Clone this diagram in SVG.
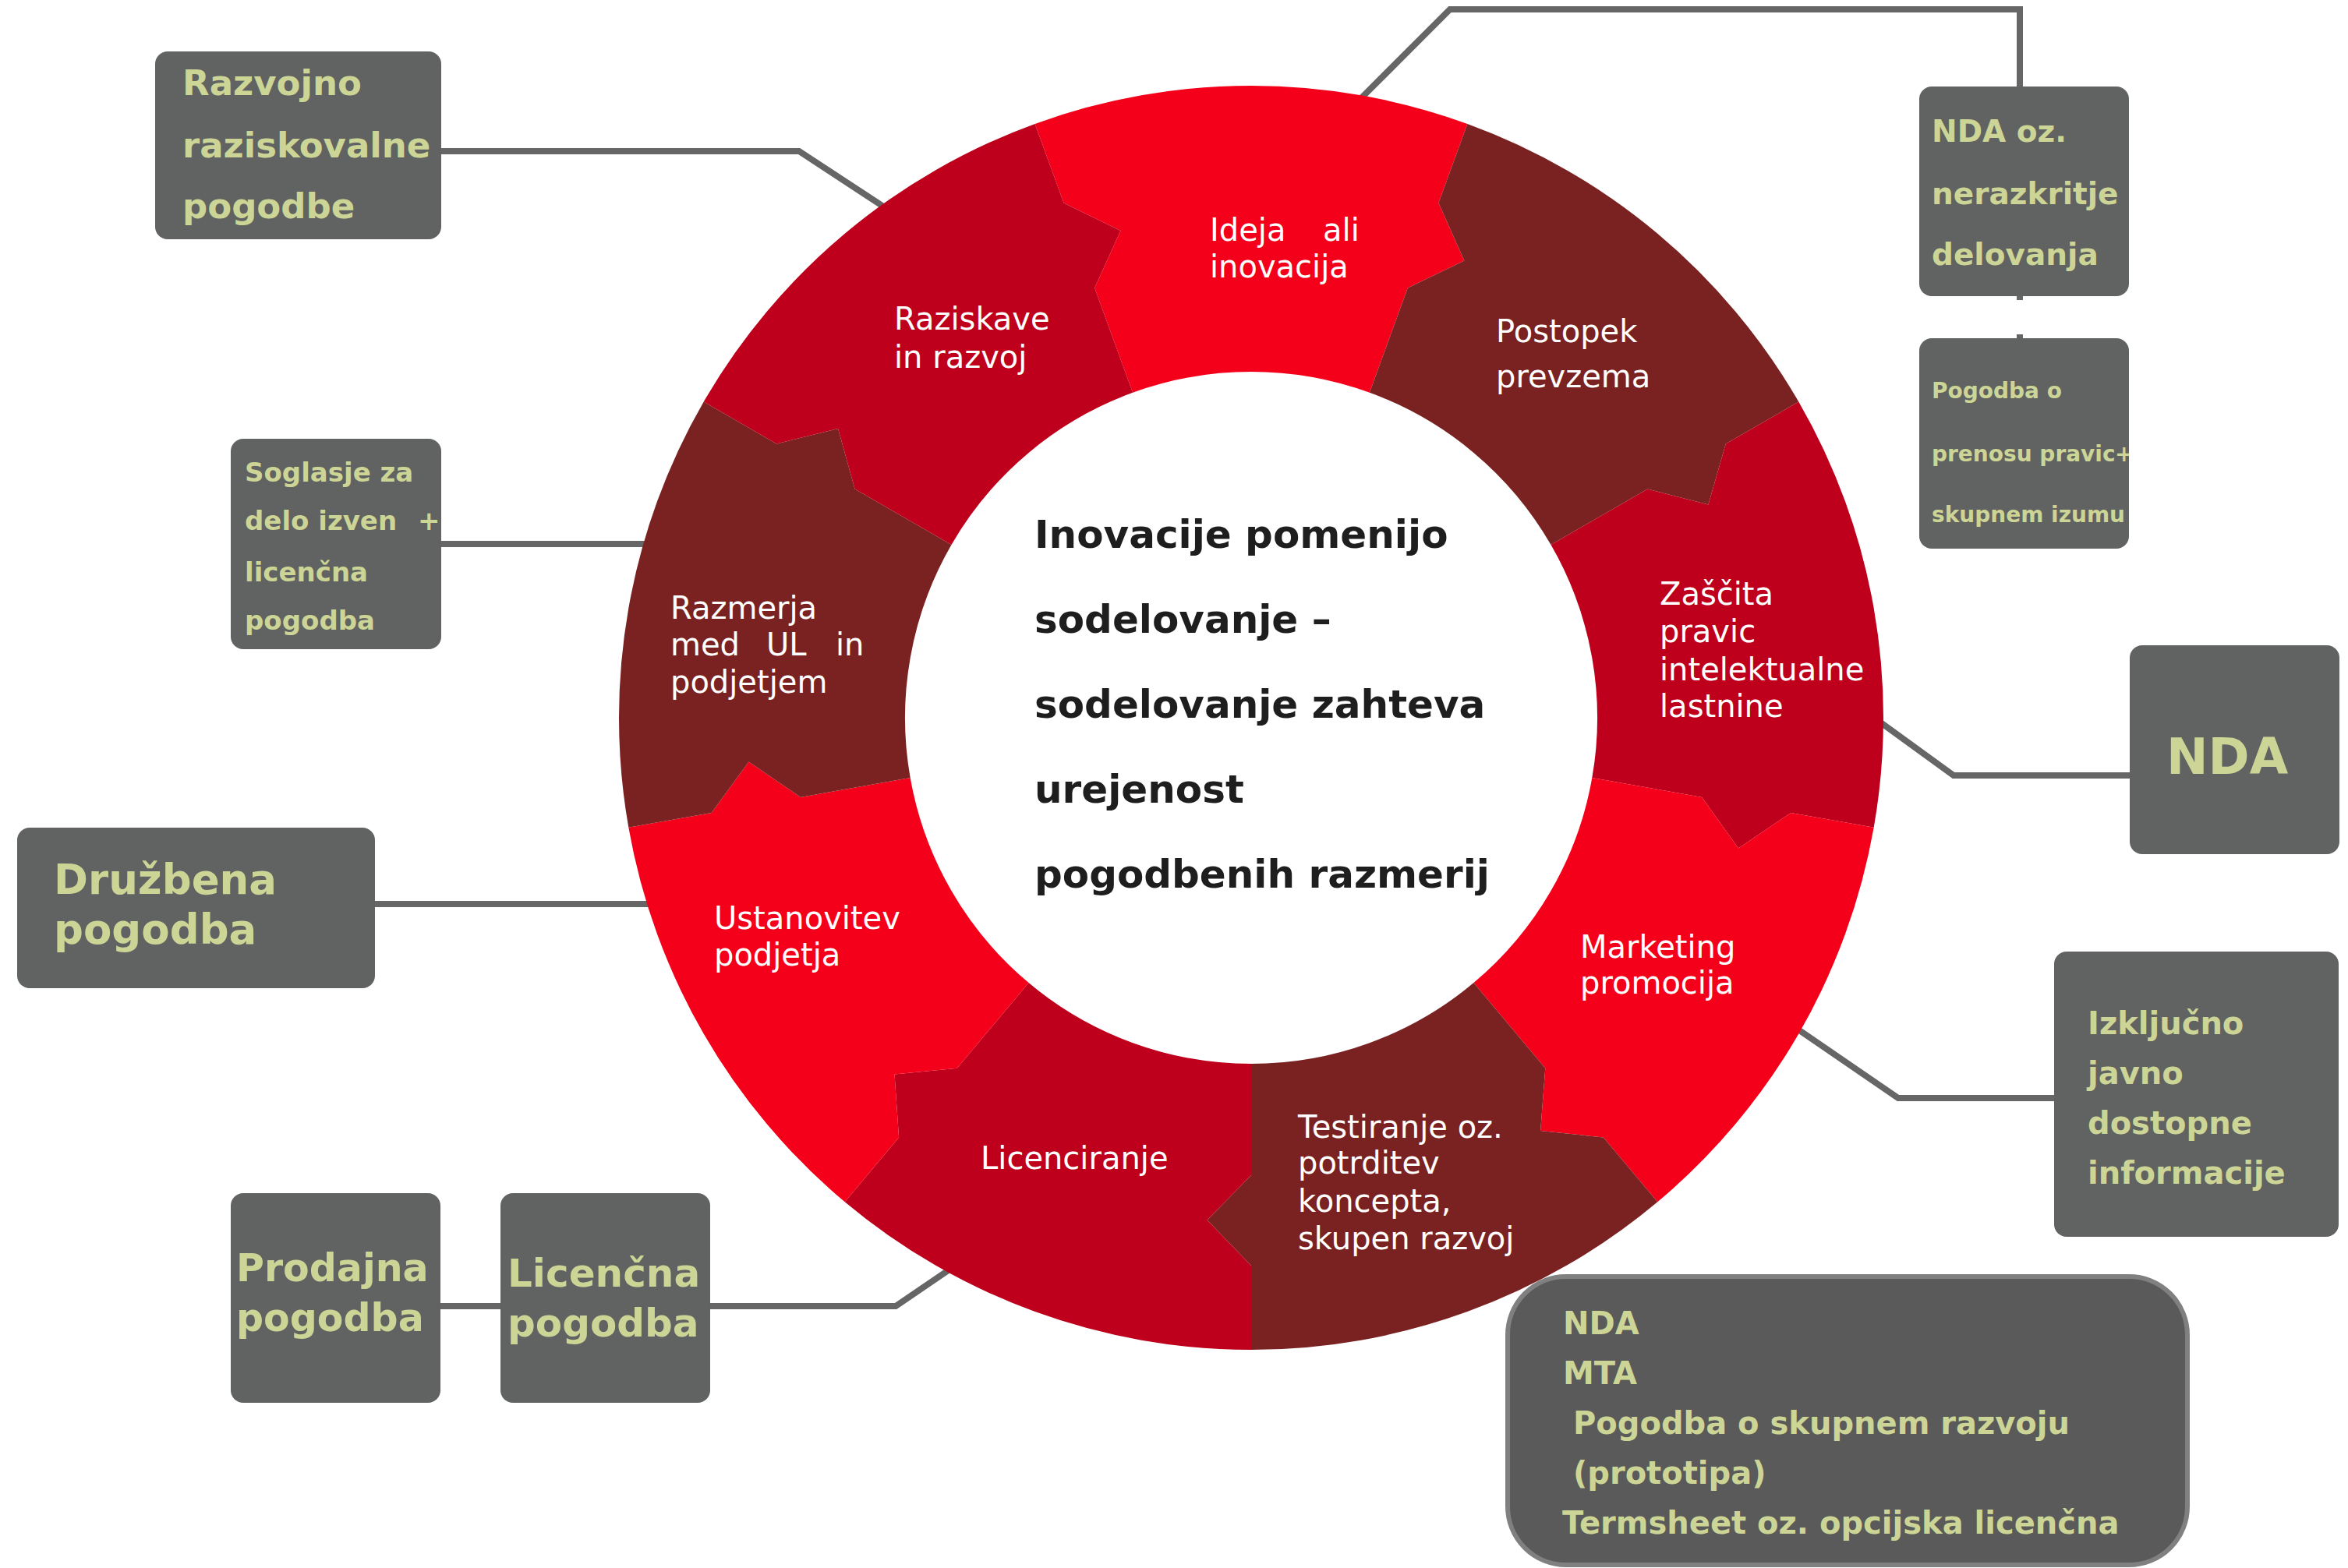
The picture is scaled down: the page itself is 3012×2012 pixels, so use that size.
<svg xmlns="http://www.w3.org/2000/svg" width="3012" height="2012" viewBox="0 0 3012 2012">
<style>
.bright{fill:#F4001A}
.crimson{fill:#BE001C}
.dark{fill:#7A2221}
.box{fill:#616362}
.bt{fill:#CCD595;font-family:"DejaVu Sans",sans-serif;font-weight:bold}
.lbl{fill:#FFFFFF;font-family:"DejaVu Sans",sans-serif;font-size:40px}
.ctr{fill:#1E1E1E;font-family:"DejaVu Sans",sans-serif;font-weight:bold;font-size:50px}
.con{fill:none;stroke:#666666;stroke-width:8;stroke-linejoin:miter}
</style>
<defs>
<clipPath id="clip7"><rect x="2462" y="434" width="269" height="270" rx="16"/></clipPath>
</defs>
<rect width="3012" height="2012" fill="#FFFFFF"/>
<g id="connectors">
<polyline class="con" points="566,194 1025,194 1150,276"/>
<polyline class="con" points="566,698 845,698"/>
<polyline class="con" points="481,1160 850,1160"/>
<polyline class="con" points="565,1676 642,1676"/>
<polyline class="con" points="911,1676 1149,1676 1240,1614"/>
<polyline class="con" points="1740,132 1860,12 2591,12 2591,111"/>
<line class="con" x1="2591" y1="380" x2="2591" y2="385"/>
<line class="con" x1="2591" y1="429" x2="2591" y2="434"/>
<polyline class="con" points="2400,918 2506,995 2732,995"/>
<polyline class="con" points="2295,1313 2435,1409 2635,1409"/>
</g>
<g id="ring">
<g id="seg-ideja">
<path class="bright" d="M 1327.6 158.9 A 811 811 0 0 1 1882.4 158.9 L 1845.4 260.4 L 1878.4 334.6 L 1805.8 369.4 L 1756.9 503.8 A 444 444 0 0 0 1453.1 503.8 L 1404.2 369.4 L 1437.5 296.0 L 1364.6 260.4 Z"/>
<text class="lbl"><tspan x="1552" y="309">Ideja</tspan><tspan x="1697" y="309">ali</tspan><tspan x="1552" y="356">inovacija</tspan></text>
</g>
<g id="seg-postopek">
<path class="dark" d="M 1882.4 158.9 A 811 811 0 0 1 2307.3 515.5 L 2213.8 569.5 L 2191.4 647.6 L 2113.4 627.5 L 1989.5 699 A 444 444 0 0 0 1756.9 503.8 L 1805.8 369.4 L 1878.4 334.6 L 1845.4 260.4 Z"/>
<text class="lbl"><tspan x="1919" y="439">Postopek</tspan><tspan x="1919" y="497">prevzema</tspan></text>
</g>
<g id="seg-zascita">
<path class="crimson" d="M 2307.3 515.5 A 811 811 0 0 1 2403.7 1061.8 L 2297.3 1043.1 L 2230.0 1088.5 L 2183.1 1022.9 L 2042.3 998.1 A 444 444 0 0 0 1989.5 699 L 2113.4 627.5 L 2191.4 647.6 L 2213.8 569.5 Z"/>
<text class="lbl"><tspan x="2129" y="776">Zaščita</tspan><tspan x="2129" y="824">pravic</tspan><tspan x="2129" y="873">intelektualne</tspan><tspan x="2129" y="920">lastnine</tspan></text>
</g>
<g id="seg-marketing">
<path class="bright" d="M 2403.7 1061.8 A 811 811 0 0 1 2126.3 1542.3 L 2056.9 1459.5 L 1976.1 1451.0 L 1982.3 1370.7 L 1890.4 1261.1 A 444 444 0 0 0 2042.3 998.1 L 2183.1 1022.9 L 2230.0 1088.5 L 2297.3 1043.1 Z"/>
<text class="lbl"><tspan x="2027" y="1229">Marketing</tspan><tspan x="2027" y="1275">promocija</tspan></text>
</g>
<g id="seg-testiranje">
<path class="dark" d="M 2126.3 1542.3 A 811 811 0 0 1 1605 1732 L 1605 1624 L 1548.6 1565.5 L 1605 1508 L 1605 1365 A 444 444 0 0 0 1890.4 1261.1 L 1982.3 1370.7 L 1976.1 1451.0 L 2056.9 1459.5 Z"/>
<text class="lbl"><tspan x="1665" y="1460">Testiranje oz.</tspan><tspan x="1665" y="1506">potrditev</tspan><tspan x="1665" y="1555">koncepta,</tspan><tspan x="1665" y="1603">skupen razvoj</tspan></text>
</g>
<g id="seg-licenciranje">
<path class="crimson" d="M 1605 1732 A 811 811 0 0 1 1083.7 1542.3 L 1153.1 1459.5 L 1147.5 1378.5 L 1227.7 1370.7 L 1319.6 1261.1 A 444 444 0 0 0 1605 1365 L 1605 1508 L 1548.6 1565.5 L 1605 1624 Z"/>
<text class="lbl" x="1258" y="1500">Licenciranje</text>
</g>
<g id="seg-ustanovitev">
<path class="bright" d="M 1083.7 1542.3 A 811 811 0 0 1 806.3 1061.8 L 912.7 1043.1 L 960.5 977.4 L 1026.9 1022.9 L 1167.7 998.1 A 444 444 0 0 0 1319.6 1261.1 L 1227.7 1370.7 L 1147.5 1378.5 L 1153.1 1459.5 Z"/>
<text class="lbl"><tspan x="916" y="1192">Ustanovitev</tspan><tspan x="916" y="1239">podjetja</tspan></text>
</g>
<g id="seg-razmerja">
<path class="dark" d="M 806.3 1061.8 A 811 811 0 0 1 902.7 515.5 L 996.2 569.5 L 1075.0 549.9 L 1096.6 627.5 L 1220.5 699 A 444 444 0 0 0 1167.7 998.1 L 1026.9 1022.9 L 960.5 977.4 L 912.7 1043.1 Z"/>
<text class="lbl"><tspan x="860" y="794">Razmerja</tspan><tspan x="860" y="841">med</tspan><tspan x="983" y="841">UL</tspan><tspan x="1072" y="841">in</tspan><tspan x="860" y="889">podjetjem</tspan></text>
</g>
<g id="seg-raziskave">
<path class="crimson" d="M 902.7 515.5 A 811 811 0 0 1 1327.6 158.9 L 1364.6 260.4 L 1437.5 296.0 L 1404.2 369.4 L 1453.1 503.8 A 444 444 0 0 0 1220.5 699 L 1096.6 627.5 L 1075.0 549.9 L 996.2 569.5 Z"/>
<text class="lbl"><tspan x="1147" y="423">Raziskave</tspan><tspan x="1147" y="472">in razvoj</tspan></text>
</g>
</g>
<g id="center">
<text class="ctr"><tspan x="1327" y="703">Inovacije pomenijo</tspan><tspan x="1327" y="812">sodelovanje –</tspan><tspan x="1327" y="921">sodelovanje zahteva</tspan><tspan x="1327" y="1030">urejenost</tspan><tspan x="1327" y="1139">pogodbenih razmerij</tspan></text>
</g>
<g id="box-razvojno">
<rect class="box" x="199" y="66" width="367" height="241" rx="16"/>
<text class="bt" font-size="45"><tspan x="234" y="122">Razvojno</tspan><tspan x="234" y="202">raziskovalne</tspan><tspan x="234" y="280">pogodbe</tspan></text>
</g>
<g id="box-soglasje">
<rect class="box" x="296" y="563" width="270" height="270" rx="16"/>
<text class="bt" font-size="34"><tspan x="314" y="618">Soglasje za</tspan><tspan x="314" y="680">delo izven</tspan><tspan x="536" y="680">+</tspan><tspan x="314" y="746">licenčna</tspan><tspan x="314" y="808">pogodba</tspan></text>
</g>
<g id="box-druzbena">
<rect class="box" x="22" y="1062" width="459" height="206" rx="16"/>
<text class="bt" font-size="53"><tspan x="69" y="1147">Družbena</tspan><tspan x="69" y="1211">pogodba</tspan></text>
</g>
<g id="box-prodajna">
<rect class="box" x="296" y="1531" width="269" height="269" rx="16"/>
<text class="bt" font-size="49"><tspan x="303" y="1644">Prodajna</tspan><tspan x="303" y="1708">pogodba</tspan></text>
</g>
<g id="box-licencna">
<rect class="box" x="642" y="1531" width="269" height="269" rx="16"/>
<text class="bt" font-size="50"><tspan x="651" y="1651">Licenčna</tspan><tspan x="651" y="1715">pogodba</tspan></text>
</g>
<g id="box-nda-oz">
<rect class="box" x="2462" y="111" width="269" height="269" rx="16"/>
<text class="bt" font-size="39"><tspan x="2478" y="182">NDA oz.</tspan><tspan x="2478" y="262">nerazkritje</tspan><tspan x="2478" y="340">delovanja</tspan></text>
</g>
<g id="box-pogodba-prenos">
<rect class="box" x="2462" y="434" width="269" height="270" rx="16"/>
<text class="bt" font-size="28" clip-path="url(#clip7)"><tspan x="2478" y="511">Pogodba o</tspan><tspan x="2478" y="592">prenosu pravic</tspan><tspan x="2713" y="592">+</tspan><tspan x="2478" y="670">skupnem izumu</tspan></text>
</g>
<g id="box-nda">
<rect class="box" x="2732" y="828" width="269" height="268" rx="16"/>
<text class="bt" font-size="64" x="2779" y="993">NDA</text>
</g>
<g id="box-izkljucno">
<rect class="box" x="2635" y="1221" width="365" height="366" rx="16"/>
<text class="bt" font-size="40"><tspan x="2678" y="1327">Izključno</tspan><tspan x="2678" y="1391">javno</tspan><tspan x="2678" y="1455">dostopne</tspan><tspan x="2678" y="1519">informacije</tspan></text>
</g>
<g id="box-seznam">
<rect x="1934" y="1638" width="872" height="370" rx="75" fill="#5A5A5A" stroke="#808080" stroke-width="6"/>
<text class="bt" font-size="40"><tspan x="2005" y="1712">NDA</tspan><tspan x="2005" y="1776">MTA</tspan><tspan x="2018" y="1840">Pogodba o skupnem razvoju</tspan><tspan x="2018" y="1904">(prototipa)</tspan><tspan x="2004" y="1968">Termsheet oz. opcijska licenčna</tspan></text>
</g>
</svg>
